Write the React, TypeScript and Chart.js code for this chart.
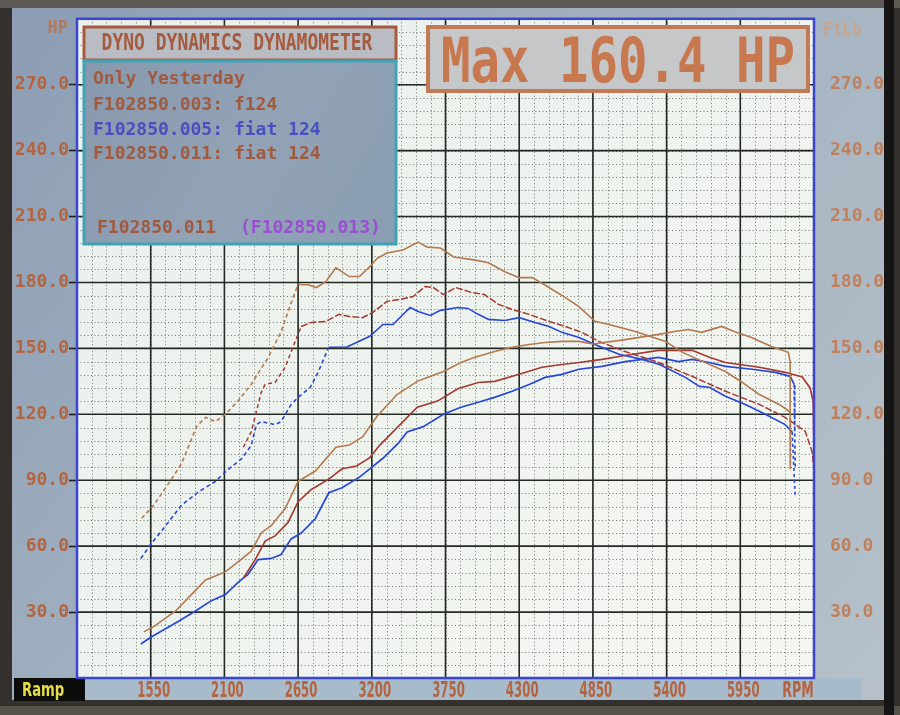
import React, { useEffect, useRef } from "react";
import { Chart, registerables } from "chart.js";
Chart.register(...registerables);

// ---------- axes ----------
const RPM_MIN = 1000;
const RPM_MAX = 6500;
const VAL_MIN = 0;
const VAL_MAX = 300;
const X_TICKS = [1550, 2100, 2650, 3200, 3750, 4300, 4850, 5400, 5950];
const Y_TICKS = [30, 60, 90, 120, 150, 180, 210, 240, 270];
const X_MINOR_STEP = 110;
const Y_MINOR_STEP = 6;
const X_UNIT = "RPM";
const Y_LEFT_UNIT = "HP";
const Y_RIGHT_UNIT = "FtLb";

// ---------- series: F102850.011 (tan) ----------
const TAN_TQ_RPM = [1483, 1572, 1700, 1780, 1892, 1959, 2033, 2107, 2200, 2300, 2427, 2524, 2600, 2650, 2726, 2787, 2856, 2932, 3032, 3108, 3185, 3240, 3313, 3433, 3546, 3614, 3712, 3811, 3964, 4071, 4193, 4300, 4397, 4523, 4642, 4746, 4865, 4970, 5166, 5392, 5519, 5668, 5839, 5965, 6092, 6240, 6315, 6322, 6324];
const TAN_TQ = [72.7, 78.6, 90, 97.5, 114.4, 118.6, 116.7, 120, 126, 133.6, 145.9, 157.7, 171, 179.1, 179, 177.7, 180.4, 186.7, 182.7, 182.7, 187.2, 191, 193.4, 194.8, 198.4, 196.1, 195.7, 191.6, 190.3, 189, 184.9, 182.2, 182.2, 177.7, 173.2, 169, 162.3, 160.9, 157.7, 153.2, 148.2, 144.1, 139.5, 134.5, 129, 124.5, 121.4, 119, 96];
const TAN_HP_RPM = [1498, 1572, 1736, 1884, 1959, 2107, 2226, 2300, 2375, 2449, 2553, 2650, 2779, 2932, 3032, 3131, 3238, 3388, 3539, 3614, 3735, 3865, 3964, 4117, 4247, 4374, 4494, 4619, 4746, 4850, 5090, 5340, 5459, 5563, 5661, 5810, 5906, 6033, 6182, 6308, 6322, 6322, 6323];
const TAN_HP = [21, 23.4, 30.5, 39.9, 44.6, 48.3, 54, 57.7, 66, 69.3, 77.1, 89.5, 94.2, 105, 106, 109.7, 119, 129, 135, 136.8, 139.5, 143.6, 145.9, 148.6, 150.5, 151.8, 152.7, 153.2, 153.2, 152, 154, 156.4, 157.7, 158.6, 157.3, 160, 157.7, 155, 150.9, 148.2, 144, 120, 95];

// ---------- series: F102850.003 (dark red) ----------
const RED_TQ_RPM = [2241, 2300, 2375, 2404, 2478, 2553, 2627, 2673, 2749, 2856, 2955, 3032, 3131, 3208, 3313, 3411, 3509, 3599, 3659, 3735, 3826, 3941, 4040, 4147, 4247, 4374, 4523, 4642, 4768, 4895, 5090, 5340, 5590, 5839, 6092, 6285, 6434, 6486, 6498];
const RED_TQ = [105, 112, 130, 133.6, 134.5, 141.4, 153, 160, 161.8, 162.3, 165.5, 164.5, 164, 166.4, 171.4, 172.3, 173.6, 178.2, 177.7, 174.5, 177.7, 175.5, 174.5, 170, 167.7, 165.5, 162.3, 160, 157.3, 153.2, 148.6, 143.6, 137.3, 130.5, 124.5, 118.6, 112.3, 103, 96];
const RED_HP_RPM = [2241, 2330, 2404, 2478, 2575, 2650, 2749, 2879, 2978, 3086, 3185, 3260, 3358, 3539, 3690, 3842, 3994, 4117, 4300, 4470, 4619, 4746, 4918, 5090, 5340, 5590, 5719, 5839, 6092, 6285, 6412, 6471, 6494, 6498];
const RED_HP = [45.4, 53.9, 62.3, 64.7, 70.8, 80.2, 85.8, 90.5, 95.2, 96.5, 100.3, 106, 112, 123.2, 126, 131.6, 134.5, 135, 138.2, 141.4, 142.7, 143.6, 145, 146.8, 149.1, 149.1, 146, 143.6, 141.4, 139.1, 137, 132, 125.8, 110];

// ---------- series: F102850.005 (blue) ----------
const BLUE_TQ_RPM = [1476, 1557, 1632, 1780, 1907, 2033, 2130, 2227, 2300, 2338, 2375, 2478, 2523, 2598, 2650, 2741, 2802, 2856, 2879, 3009, 3086, 3185, 3283, 3358, 3486, 3546, 3637, 3712, 3842, 3918, 3994, 4071, 4193, 4300, 4419, 4523, 4619, 4746, 4865, 5045, 5218, 5347, 5540, 5645, 5719, 5839, 5988, 6137, 6285, 6337, 6360];
const BLUE_TQ = [54.4, 61.4, 67, 78.6, 84.7, 89.5, 95, 99.7, 105.8, 115.3, 116.7, 115.3, 116.7, 124.5, 127.7, 132.3, 139.5, 147.3, 150.5, 150.5, 152.7, 155.5, 160.9, 160.9, 168.6, 166.8, 165, 167.3, 168.6, 168.2, 165.5, 163.2, 162.7, 164, 161.8, 160, 157.3, 155, 151.8, 147.3, 145, 142.7, 136.8, 132.7, 132.3, 128.2, 124.5, 120, 115.3, 112, 82];
const BLUE_HP_RPM = [1476, 1557, 1758, 1884, 2003, 2107, 2204, 2278, 2352, 2449, 2523, 2598, 2673, 2779, 2879, 2978, 3108, 3185, 3283, 3400, 3464, 3584, 3735, 3865, 3994, 4117, 4247, 4374, 4494, 4619, 4746, 4918, 5090, 5340, 5489, 5590, 5719, 5839, 6040, 6211, 6322, 6352, 6356, 6360];
const BLUE_HP = [15.5, 18.8, 25.8, 30.5, 35.2, 38, 43.6, 47.3, 53.9, 54.4, 56.2, 63.3, 66, 72.6, 84.3, 86.6, 91.4, 95.2, 100, 107, 112, 114.4, 120, 123.2, 125.5, 127.7, 130.5, 133.6, 136.8, 138.2, 140.5, 141.8, 144, 145.9, 144, 145, 143.6, 141.8, 140.5, 139.1, 137.3, 133.6, 112, 95];

// ---------- texts ----------
const TITLE = "DYNO DYNAMICS DYNAMOMETER";
const MAX_TEXT = "Max 160.4 HP";
const LEGEND_HEADER = "Only Yesterday";
const LEGEND_FILES = ["F102850.003: f124", "F102850.005: fiat 124", "F102850.011: fiat 124"];
const CURRENT_FILE = "F102850.011";
const COMPARE_FILE = "(F102850.013)";
const MODE_TEXT = "Ramp";

// ---------- styles ----------
const TAN = "#b27a4e";
const RED = "#a3392f";
const BLUE = "#2747d6";
const LABEL = "#b4643e";
const MONO = '"DejaVu Sans Mono", "Liberation Mono", monospace';
const SANS = '"DejaVu Sans", "Liberation Sans", sans-serif';

type Style = { color: string; width: number; rampEnd: number; bodyDash: number[]; tailFrom: number; tailBelow: number };

function pts(xs: number[], ys: number[]) {
  return xs.map((x, i) => ({ x, y: ys[i] }));
}

function seg(st: Style) {
  return (ctx: any) => {
    const p0 = ctx.p0.parsed;
    const p1 = ctx.p1.parsed;
    if (p1.x <= st.rampEnd) return [4, 3];
    if (p0.x >= st.tailFrom && p1.y < st.tailBelow) return [3, 3];
    return st.bodyDash;
  };
}

function txt(ctx: CanvasRenderingContext2D, s: string, x: number, y: number, font: string, color: string, sy = 1, align: CanvasTextAlign = "left", sx = 1) {
  ctx.save();
  ctx.translate(x, y);
  ctx.scale(sx, sy);
  ctx.font = font;
  ctx.fillStyle = color;
  ctx.textAlign = align;
  ctx.textBaseline = "alphabetic";
  ctx.fillText(s, 0, 0);
  ctx.restore();
}

const screenPlugin = {
  id: "screen",
  beforeDraw(chart: any) {
    const ctx: CanvasRenderingContext2D = chart.ctx;
    const W = chart.width;
    const H = chart.height;
    const a = chart.chartArea;
    ctx.save();
    // bezel
    ctx.fillStyle = "#33302d";
    ctx.fillRect(0, 0, W, H);
    ctx.fillStyle = "#5e5953";
    ctx.fillRect(0, 0, W, 8);
    ctx.fillStyle = "#57524c";
    ctx.fillRect(0, 706, W, H - 706);
    ctx.fillStyle = "#151515";
    ctx.fillRect(884, 0, 10, H);
    // screen
    const g = ctx.createLinearGradient(12, 8, 885, 700);
    g.addColorStop(0, "#8c9db4");
    g.addColorStop(0.5, "#a4b3c2");
    g.addColorStop(1, "#b6c1c9");
    ctx.fillStyle = g;
    ctx.fillRect(12, 8, 872, 692);
    // plot background
    const pg = ctx.createLinearGradient(a.left, a.top, a.right, a.bottom);
    pg.addColorStop(0, "#eaf0ec");
    pg.addColorStop(1, "#f4f6f1");
    ctx.fillStyle = pg;
    ctx.fillRect(a.left, a.top, a.right - a.left, a.bottom - a.top);
    // x label band
    ctx.fillStyle = "#a8bbcb";
    ctx.fillRect(85, a.bottom, 777, 700 - a.bottom);
    // mode box
    ctx.fillStyle = "#0c0c0a";
    ctx.fillRect(14, a.bottom, 71, 701 - a.bottom);
    txt(ctx, MODE_TEXT, 22, 696, `bold 20px ${SANS}`, "#e4dd45", 1, "left", 0.66);
    ctx.restore();
  },
  beforeDatasetsDraw(chart: any) {
    const ctx: CanvasRenderingContext2D = chart.ctx;
    const a = chart.chartArea;
    const xs = chart.scales.x;
    const ys = chart.scales.y;
    ctx.save();
    ctx.beginPath();
    ctx.rect(a.left, a.top, a.right - a.left, a.bottom - a.top);
    ctx.clip();
    // minor
    ctx.strokeStyle = "rgba(45,55,48,0.65)";
    ctx.lineWidth = 1;
    ctx.setLineDash([1, 2.5]);
    for (let v = RPM_MIN; v <= RPM_MAX; v += X_MINOR_STEP) {
      const px = Math.round(xs.getPixelForValue(v)) + 0.5;
      ctx.beginPath();
      ctx.moveTo(px, a.top);
      ctx.lineTo(px, a.bottom);
      ctx.stroke();
    }
    for (let v = VAL_MIN; v <= VAL_MAX; v += Y_MINOR_STEP) {
      const py = Math.round(ys.getPixelForValue(v)) + 0.5;
      ctx.beginPath();
      ctx.moveTo(a.left, py);
      ctx.lineTo(a.right, py);
      ctx.stroke();
    }
    // major
    ctx.setLineDash([]);
    ctx.strokeStyle = "#232a24";
    ctx.lineWidth = 1.6;
    for (const v of X_TICKS) {
      const px = xs.getPixelForValue(v);
      ctx.beginPath();
      ctx.moveTo(px, a.top);
      ctx.lineTo(px, a.bottom);
      ctx.stroke();
    }
    for (const v of Y_TICKS) {
      const py = ys.getPixelForValue(v);
      ctx.beginPath();
      ctx.moveTo(a.left, py);
      ctx.lineTo(a.right, py);
      ctx.stroke();
    }
    ctx.restore();
  },
  afterDatasetsDraw(chart: any) {
    const ctx: CanvasRenderingContext2D = chart.ctx;
    const a = chart.chartArea;
    ctx.save();
    ctx.strokeStyle = "#3a45d2";
    ctx.lineWidth = 2.5;
    ctx.strokeRect(a.left, a.top, a.right - a.left, a.bottom - a.top);
    ctx.restore();
  },
  afterDraw(chart: any) {
    const ctx: CanvasRenderingContext2D = chart.ctx;
    const xs = chart.scales.x;
    ctx.save();
    // x tick labels (condensed, like the dyno's bitmap font)
    for (const v of X_TICKS) {
      txt(ctx, String(v), xs.getPixelForValue(v) + 3, 697, `bold 21px ${SANS}`, LABEL, 1, "center", 0.56);
    }
    // unit labels
    txt(ctx, Y_LEFT_UNIT, 68, 33, `bold 17px ${MONO}`, "#b07a5e", 1.05, "right");
    txt(ctx, Y_RIGHT_UNIT, 823, 35, `bold 16px ${MONO}`, "#c4a690", 1.05, "left");
    txt(ctx, X_UNIT, 798, 697, `bold 21px ${SANS}`, LABEL, 1, "center", 0.6);
    // title box
    ctx.fillStyle = "#b9bcc2";
    ctx.fillRect(84, 27, 312, 33);
    ctx.strokeStyle = "#a75a3f";
    ctx.lineWidth = 3;
    ctx.strokeRect(84, 27, 312, 33);
    txt(ctx, TITLE, 237, 50, `bold 18px ${MONO}`, "#a65a3e", 1.3, "center");
    // legend box
    const lg = ctx.createLinearGradient(84, 61, 396, 244);
    lg.addColorStop(0, "#8797ad");
    lg.addColorStop(0.5, "#93a3b6");
    lg.addColorStop(1, "#8a9db2");
    ctx.fillStyle = lg;
    ctx.fillRect(84, 61, 312, 183);
    ctx.strokeStyle = "#3fa3b5";
    ctx.lineWidth = 3;
    ctx.strokeRect(84, 61, 312, 183);
    const lf = `bold 18px ${MONO}`;
    txt(ctx, LEGEND_HEADER, 93, 84, lf, "#a15a3e");
    const legendColors = ["#a15a3e", "#4a4fbf", "#a15a3e"];
    LEGEND_FILES.forEach((s, i) => txt(ctx, s, 93, 110 + i * 24.5, lf, legendColors[i]));
    txt(ctx, CURRENT_FILE, 97, 233, lf, "#a15a3e");
    txt(ctx, COMPARE_FILE, 240, 233, lf, "#9a4fd2");
    // max box
    ctx.fillStyle = "#c6c7c9";
    ctx.fillRect(428, 27, 380, 64);
    ctx.strokeStyle = "#c27a56";
    ctx.lineWidth = 4;
    ctx.strokeRect(428, 27, 380, 64);
    txt(ctx, MAX_TEXT, 441, 82, `bold 49px ${MONO}`, "#c8784f", 1.28);
    ctx.restore();
  },
};

export default function App() {
  const ref = useRef<HTMLCanvasElement | null>(null);
  useEffect(() => {
    if (!ref.current) return;
    document.body.style.margin = "0";
    const styles: Style[] = [
      { color: TAN, width: 1.6, rampEnd: 2650, bodyDash: [], tailFrom: 6300, tailBelow: 119.5 },
      { color: TAN, width: 1.6, rampEnd: 0, bodyDash: [], tailFrom: 6300, tailBelow: 119.5 },
      { color: RED, width: 1.5, rampEnd: 2673, bodyDash: [7, 2], tailFrom: 9999, tailBelow: 0 },
      { color: RED, width: 1.6, rampEnd: 0, bodyDash: [], tailFrom: 9999, tailBelow: 0 },
      { color: BLUE, width: 1.6, rampEnd: 2879, bodyDash: [], tailFrom: 6330, tailBelow: 113 },
      { color: BLUE, width: 1.7, rampEnd: 0, bodyDash: [], tailFrom: 6350, tailBelow: 113 },
    ];
    const series = [
      { label: "F102850.011 torque", data: pts(TAN_TQ_RPM, TAN_TQ), axis: "y2" },
      { label: "F102850.011 power", data: pts(TAN_HP_RPM, TAN_HP), axis: "y" },
      { label: "F102850.003 torque", data: pts(RED_TQ_RPM, RED_TQ), axis: "y2" },
      { label: "F102850.003 power", data: pts(RED_HP_RPM, RED_HP), axis: "y" },
      { label: "F102850.005 torque", data: pts(BLUE_TQ_RPM, BLUE_TQ), axis: "y2" },
      { label: "F102850.005 power", data: pts(BLUE_HP_RPM, BLUE_HP), axis: "y" },
    ];
    const yTickFont = { family: MONO, size: 18, weight: "bold" as const };
    const chart = new Chart(ref.current, {
      type: "line",
      data: {
        datasets: series.map((s, i) => ({
          label: s.label,
          data: s.data,
          yAxisID: s.axis,
          borderColor: styles[i].color,
          borderWidth: styles[i].width,
          pointRadius: 0,
          fill: false,
          tension: 0,
          segment: { borderDash: seg(styles[i]) },
        })),
      },
      options: {
        animation: false,
        responsive: false,
        maintainAspectRatio: false,
        layout: { padding: { left: 8, right: 0, top: 17, bottom: 0 } },
        plugins: { legend: { display: false }, tooltip: { enabled: false } },
        scales: {
          x: {
            type: "linear",
            min: RPM_MIN,
            max: RPM_MAX,
            afterBuildTicks: (s: any) => { s.ticks = X_TICKS.map((v) => ({ value: v })); },
            afterFit: (s: any) => { s.height = 37; },
            grid: { display: false },
            border: { display: false },
            ticks: { display: false },
          },
          y: {
            type: "linear",
            position: "left",
            min: VAL_MIN,
            max: VAL_MAX,
            afterBuildTicks: (s: any) => { s.ticks = Y_TICKS.map((v) => ({ value: v })); },
            afterFit: (s: any) => { s.width = 69; },
            grid: { display: true, drawOnChartArea: false, drawTicks: true, tickLength: 8, tickColor: "#1d1f1d", tickWidth: 1.6, color: "#1d1f1d" },
            border: { display: false },
            ticks: { color: LABEL, font: yTickFont, padding: 0, callback: (v: any) => Number(v).toFixed(1) },
          },
          y2: {
            type: "linear",
            position: "right",
            min: VAL_MIN,
            max: VAL_MAX,
            afterBuildTicks: (s: any) => { s.ticks = Y_TICKS.map((v) => ({ value: v })); },
            afterFit: (s: any) => { s.width = 86; },
            grid: { display: false },
            border: { display: false },
            ticks: { color: "#c0805c", font: yTickFont, padding: 8, callback: (v: any) => Number(v).toFixed(1) },
          },
        },
      },
      plugins: [screenPlugin],
    } as any);
    return () => chart.destroy();
  }, []);
  return (
    <div style={{ position: "fixed", left: 0, top: 0, width: 900, height: 715 }}>
      <canvas ref={ref} width={900} height={715} style={{ display: "block", width: 900, height: 715 }} />
    </div>
  );
}
